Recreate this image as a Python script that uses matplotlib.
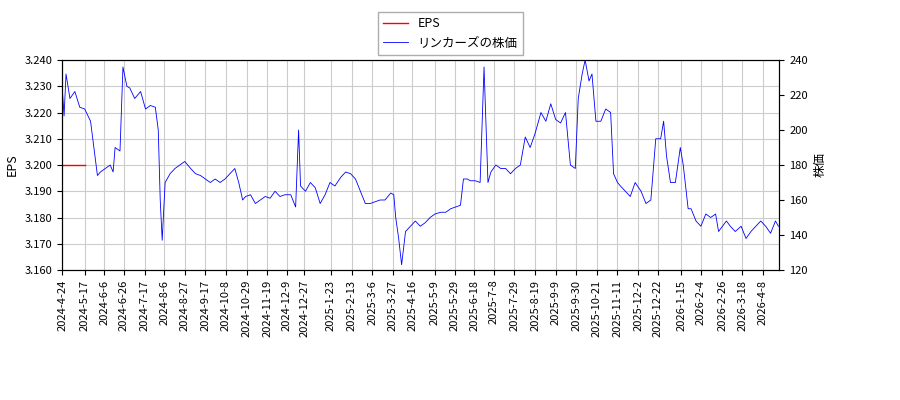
import matplotlib
matplotlib.use("Agg")
import matplotlib.pyplot as plt
import numpy as np
import pandas as pd

plt.rcParams['font.family'] = ['Noto Sans CJK JP', 'DejaVu Sans']

start = pd.Timestamp("2024-04-24")
day_offsets = [0,2,4,8,13,18,23,29,34,36,39,44,49,52,54,59,62,66,69,74,80,85,90,95,98,100,102,105,110,115,120,125,131,136,141,146,151,156,161,166,171,176,180,184,187,192,197,202,207,212,217,222,227,233,238,241,243,248,253,258,263,268,273,278,284,289,294,299,304,309,314,319,324,329,335,338,340,343,346,350,355,360,365,370,375,380,386,391,396,401,406,409,413,416,421,426,430,434,437,442,447,452,457,462,467,472,477,482,488,493,498,503,508,513,518,523,526,530,533,537,540,544,549,554,559,562,566,569,574,579,584,590,595,600,605,610,613,616,620,625,630,633,638,641,646,651,656,661,666,669,673,677,681,686,692,697,702,707,712,717,722,727,730]
price = [225,208,232,218,222,213,212,205,183,174,176,178,180,176,190,188,236,225,224,218,222,212,214,213,200,160,137,170,175,178,180,182,178,175,174,172,170,172,170,172,175,178,170,160,162,163,158,160,162,161,165,162,163,163,156,200,168,165,170,167,158,163,170,168,173,176,175,172,165,158,158,159,160,160,164,163,150,138,123,142,145,148,145,147,150,152,153,153,155,156,157,172,172,171,171,170,236,170,176,180,178,178,175,178,180,196,190,198,210,205,215,206,204,210,180,178,218,232,240,228,232,205,205,212,210,175,170,168,165,162,170,165,158,160,195,195,205,185,170,170,190,180,155,155,148,145,152,150,152,142,145,148,145,142,145,138,142,145,148,145,141,148,145]
eps_offsets = [0, 23]
eps_values = [3.200, 3.200]
tick_labels = ["2024-4-24","2024-5-17","2024-6-6","2024-6-26","2024-7-17","2024-8-6","2024-8-27","2024-9-17","2024-10-8","2024-10-29","2024-11-19","2024-12-9","2024-12-27","2025-1-23","2025-2-13","2025-3-6","2025-3-27","2025-4-16","2025-5-9","2025-5-29","2025-6-18","2025-7-8","2025-7-29","2025-8-19","2025-9-9","2025-9-30","2025-10-21","2025-11-11","2025-12-2","2025-12-22","2026-1-15","2026-2-4","2026-2-26","2026-3-18","2026-4-8"]

dates = [start + pd.Timedelta(days=d) for d in day_offsets]
eps_dates = [start + pd.Timedelta(days=d) for d in eps_offsets]
ticks = [pd.Timestamp(t) for t in tick_labels]

fig = plt.figure(figsize=(9, 4), dpi=100)
ax = fig.add_axes([0.069, 0.325, 0.797, 0.525])
ax2 = ax.twinx()
l1, = ax.plot(eps_dates, eps_values, color="red", lw=1, label="EPS")
l2, = ax2.plot(dates, price, color="blue", lw=0.6, label="リンカーズの株価")
ax.set_ylim(3.160, 3.240)
ax.set_yticks(np.arange(3.160, 3.2401, 0.010))
ax.set_yticklabels([f"{v:.3f}" for v in np.arange(3.160, 3.2401, 0.010)])
ax2.set_ylim(120, 240)
ax2.set_yticks(range(120, 241, 20))
ax.set_xlim(start, start + pd.Timedelta(days=731))
ax.set_xticks(ticks)
ax.set_xticklabels(tick_labels, rotation=90)
ax.grid(True, color="#cccccc", lw=0.8)
ax.set_ylabel("EPS", fontsize=9)
ax2.set_ylabel("株価", fontsize=9)
for a in (ax, ax2):
    a.tick_params(labelsize=8)
fig.legend([l1, l2], ["EPS", "リンカーズの株価"], loc="upper center", bbox_to_anchor=(0.5, 0.985),
           fontsize=9, fancybox=False, edgecolor="#999999")
fig.savefig("out.png")
